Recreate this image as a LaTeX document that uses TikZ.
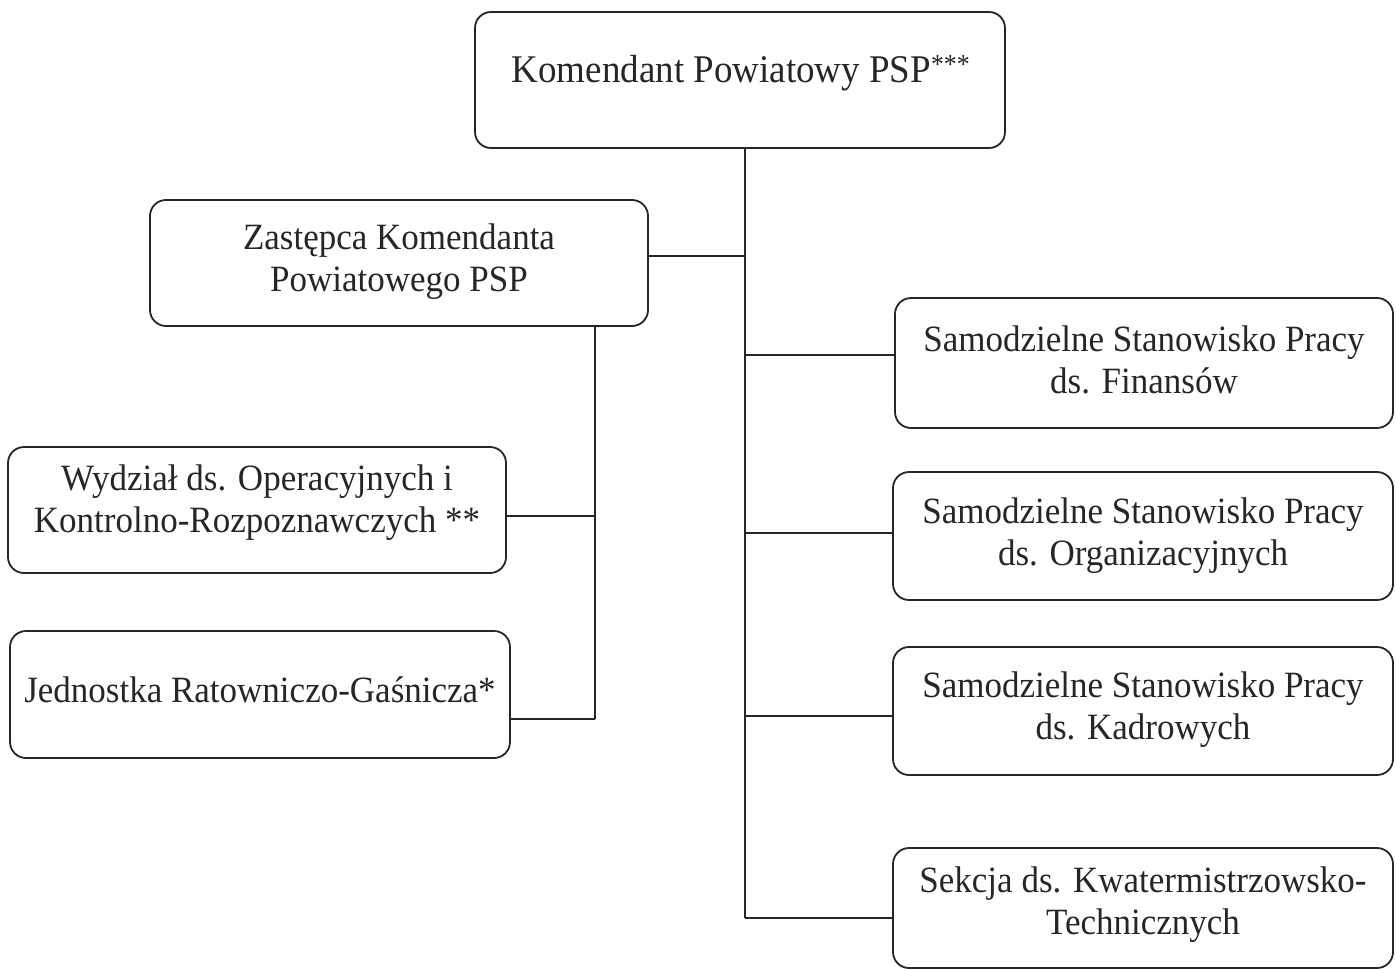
\documentclass[tikz,border=0pt]{standalone}
\usepackage{fontspec}
\setmainfont{Liberation Serif}
\newcommand{\tallrow}[1]{\scalebox{1}[1.06]{\begin{tabular}{@{}c@{}}#1\end{tabular}}}
\begin{document}
\begin{tikzpicture}[x=1pt,y=-1pt,
  box/.style={draw=black!85, line width=1.8pt, rounded corners=16pt, inner sep=0pt},
  txt/.style={align=center, font=\fontsize{35}{40}\selectfont, inner sep=0pt, text=black!85},
  conn/.style={draw=black!85, line width=1.8pt}]
\useasboundingbox (0,0) rectangle (1396,969);
% boxes
\node[box, minimum width=530pt, minimum height=136pt] (kom) at (740,80) {};
\node[box, minimum width=498pt, minimum height=126pt] (zas) at (399,263) {};
\node[box, minimum width=498pt, minimum height=126pt] (wyd) at (257,510) {};
\node[box, minimum width=500pt, minimum height=127pt] (jrg) at (260,694.5) {};
\node[box, minimum width=498pt, minimum height=130pt] (fin) at (1144,363) {};
\node[box, minimum width=500pt, minimum height=128pt] (org) at (1143,536) {};
\node[box, minimum width=500pt, minimum height=128pt] (kad) at (1143,711) {};
\node[box, minimum width=500pt, minimum height=120pt] (kwa) at (1143,908) {};
% texts
\node[txt, font=\fontsize{37}{42}\selectfont] (tkom) at (741,74) {\tallrow{Komendant Powiatowy PSP\textsuperscript{***}}};
\node[txt] (tzas) at (399,262) {\tallrow{Zastępca Komendanta\\Powiatowego PSP}};
\node[txt] (twyd) at (257,503) {\tallrow{Wydział ds. Operacyjnych i\\Kontrolno-Rozpoznawczych **}};
\node[txt] (tjrg) at (260,694) {\tallrow{Jednostka Ratowniczo-Gaśnicza*}};
\node[txt] (tfin) at (1144,364) {\tallrow{Samodzielne Stanowisko Pracy\\ds. Finansów}};
\node[txt] (torg) at (1143,536) {\tallrow{Samodzielne Stanowisko Pracy\\ds. Organizacyjnych}};
\node[txt] (tkad) at (1143,710) {\tallrow{Samodzielne Stanowisko Pracy\\ds. Kadrowych}};
\node[txt] (tkwa) at (1143,905) {\tallrow{Sekcja ds. Kwatermistrzowsko-\\Technicznych}};
% trunk coordinates
\coordinate (t0) at (745,148);
\coordinate (tend) at (745,918);
\coordinate (tz) at (745,256);
\coordinate (tf) at (745,355);
\coordinate (to) at (745,533);
\coordinate (tk) at (745,716);
\coordinate (s0) at (595,326);
\coordinate (sw) at (595,516);
\coordinate (sj) at (595,719);
% connectors
\draw[conn] (kom.south -| t0) -- (tend);
\draw[conn] (zas.east |- tz) -- (tz);
\draw[conn] (tf) -- (fin.west |- tf);
\draw[conn] (to) -- (org.west |- to);
\draw[conn] (tk) -- (kad.west |- tk);
\draw[conn] (tend) -- (kwa.west |- tend);
\draw[conn] (zas.south -| s0) -- (sj);
\draw[conn] (sw) -- (wyd.east |- sw);
\draw[conn] (sj) -- (jrg.east |- sj);
\end{tikzpicture}
\end{document}
